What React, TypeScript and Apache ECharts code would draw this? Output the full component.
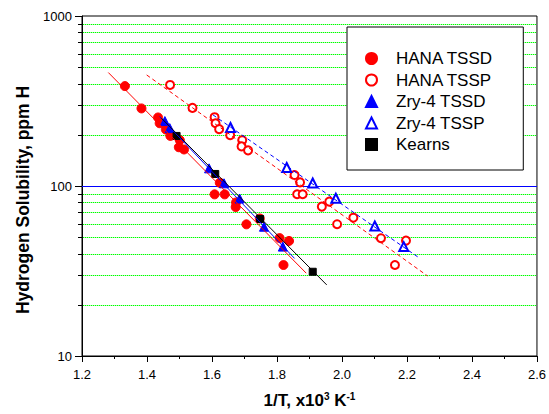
import React, { useEffect, useRef } from "react";
import * as echarts from "echarts";

// ---- Data ----
const hanaTssd: [number, number][] = [
  [1.332, 387], [1.383, 286], [1.434, 253], [1.439, 234], [1.458, 215],
  [1.472, 197], [1.501, 186], [1.498, 169], [1.514, 164], [1.608, 89.3],
  [1.639, 89.3], [1.624, 104.5], [1.674, 80], [1.673, 75.2], [1.706, 59.5],
  [1.747, 64.4], [1.808, 49.4], [1.837, 47.5], [1.82, 34.3],
];
const hanaTssp: [number, number][] = [
  [1.471, 393], [1.54, 288], [1.608, 254], [1.611, 234], [1.622, 216],
  [1.656, 199], [1.693, 186], [1.691, 171], [1.711, 162], [1.854, 116],
  [1.871, 105], [1.862, 89.4], [1.879, 89.4], [1.938, 75.6], [1.961, 80.9],
  [1.985, 59.6], [2.035, 65.1], [2.12, 49.3], [2.197, 47.7], [2.163, 34.3],
];
const zryTssd: [number, number][] = [
  [1.455, 241], [1.47, 219], [1.591, 127], [1.637, 103.7], [1.685, 84.4],
  [1.76, 57.6], [1.818, 44],
];
const zryTssp: [number, number][] = [
  [1.657, 221], [1.83, 128.5], [1.91, 104.1], [1.981, 84.7], [2.101, 58.2],
  [2.19, 44],
];
const kearns: [number, number][] = [
  [1.491, 197], [1.61, 117.7], [1.748, 64], [1.91, 31.3],
];
const hanaTssdFit: [number, number][] = [[1.281, 465], [1.89, 30.7]];
const kearnsFit: [number, number][] = [[1.445, 250], [1.953, 26.2]];
const zryTssdFit: [number, number][] = [[1.439, 256], [1.854, 37.5]];
const hanaTsspFit: [number, number][] = [[1.399, 450], [2.263, 29.6]];
const zryTsspFit: [number, number][] = [[1.603, 262], [2.24, 37.5]];

const minorValues: number[] = [20, 30, 40, 50, 60, 70, 80, 90, 200, 300, 400, 500, 600, 700, 800, 900];
const majorLines: number[] = [100];

const X_MIN = 1.2;
const X_MAX = 2.6;
const X_INTERVAL = 0.2;
const Y_MIN = 10;
const Y_MAX = 1000;
const Y_TITLE = "Hydrogen Solubility, ppm H";

const FONT = "'Liberation Sans', Arial, Helvetica, sans-serif";

export default function App() {
  const ref = useRef<HTMLDivElement>(null);

  useEffect(() => {
    if (!ref.current) return;
    const chart = echarts.init(ref.current, undefined, { renderer: "svg" });

    const gridItem = (params: any, api: any) => {
      const v = api.value(1);
      const p1 = api.coord([X_MIN, v]);
      const p2 = api.coord([X_MAX, v]);
      const y = Math.round(p1[1]) + 0.5;
      const x1 = Math.round(p1[0]) + 1;
      const x2 = Math.round(p2[0]) - 1;
      return {
        type: "group",
        silent: true,
        children: [
          {
            type: "line",
            shape: { x1, y1: y, x2, y2: y },
            style: { stroke: "#a8ffa8", lineWidth: 1 },
          },
          {
            type: "line",
            shape: { x1, y1: y, x2, y2: y },
            style: { stroke: "#00ff00", lineWidth: 1, lineDash: [1, 1] },
          },
        ],
      };
    };

    const majorItem = (params: any, api: any) => {
      const v = api.value(1);
      const p1 = api.coord([X_MIN, v]);
      const p2 = api.coord([X_MAX, v]);
      const y = Math.round(p1[1]) + 0.5;
      return {
        type: "line",
        silent: true,
        shape: { x1: p1[0], y1: y, x2: p2[0], y2: y },
        style: { stroke: "#0000ff", lineWidth: 1 },
      };
    };

    const tickItem = (params: any, api: any) => {
      const v = api.value(1);
      const p = api.coord([X_MIN, v]);
      const y = Math.round(p[1]) + 0.5;
      return {
        type: "line",
        shape: { x1: p[0] - 4, y1: y, x2: p[0], y2: y },
        style: { stroke: "#000", lineWidth: 1 },
        silent: true,
      };
    };

    const scatter = (name: string, data: [number, number][], symbol: string, color: string, size: number) => ({
      name,
      type: "scatter",
      data,
      symbol,
      symbolSize: size,
      itemStyle: { color, borderColor: color, borderWidth: 1, opacity: 1 },
      z: 3,
    });

    const fit = (name: string, data: [number, number][], color: string, dashed: boolean) => ({
      name,
      type: "line",
      data,
      showSymbol: false,
      symbol: "none",
      lineStyle: { color, width: 1, type: dashed ? [4, 3] : "solid" },
      z: 4,
      silent: true,
    });

    chart.setOption({
      animation: false,
      backgroundColor: "#fff",
      textStyle: { fontFamily: FONT },
      grid: {
        left: 82,
        top: 16,
        right: 11,
        bottom: 58,
        show: true,
        borderColor: "#000",
        borderWidth: 1,
        backgroundColor: "transparent",
      },
      graphic: [
        {
          type: "text",
          x: 23,
          y: 200,
          rotation: Math.PI / 2,
          silent: true,
          style: {
            text: Y_TITLE,
            fontSize: 17.5,
            fontWeight: "bold",
            fontFamily: FONT,
            fill: "#000",
            align: "center",
            verticalAlign: "middle",
          },
        },
      ],
      legend: {
        orient: "vertical",
        left: 347,
        top: 27,
        z: 10,
        data: ["HANA TSSD", "HANA TSSP", "Zry-4 TSSD", "Zry-4 TSSP", "Kearns"],
        backgroundColor: "#fff",
        borderColor: "#000",
        borderWidth: 1,
        borderRadius: 0,
        padding: [23, 30, 17, 18],
        itemGap: 4.5,
        itemWidth: 11,
        itemHeight: 11,
        selectedMode: false,
        textStyle: { fontSize: 17, lineHeight: 17, color: "#000", fontFamily: FONT, padding: [0, 0, 0, 14] },
      },
      xAxis: {
        type: "value",
        min: X_MIN,
        max: X_MAX,
        interval: X_INTERVAL,
        name: "1/T, x10{sup|3} K{sup|-1}",
        nameLocation: "middle",
        nameGap: 35,
        nameTextStyle: {
          fontSize: 17,
          fontWeight: "bold",
          color: "#000",
          fontFamily: FONT,
          rich: {
            sup: { fontSize: 10, fontWeight: "bold", color: "#000", padding: [0, 0, 9, 0], fontFamily: FONT },
          },
        },
        axisLine: { show: true, lineStyle: { color: "#000", width: 1 } },
        axisTick: { show: true, length: 6, lineStyle: { color: "#000" } },
        minorTick: { show: true, splitNumber: 2, length: 3, lineStyle: { color: "#000" } },
        axisLabel: {
          fontSize: 13,
          color: "#000",
          margin: 12,
          fontFamily: FONT,
          formatter: (v: number) => v.toFixed(1),
        },
        splitLine: { show: false },
      },
      yAxis: {
        type: "log",
        logBase: 10,
        min: Y_MIN,
        max: Y_MAX,
        axisLine: { show: true, lineStyle: { color: "#000", width: 1 } },
        axisTick: { show: true, length: 7, lineStyle: { color: "#000" } },
        axisLabel: {
          fontSize: 13,
          color: "#000",
          margin: 10,
          fontFamily: FONT,
          formatter: (v: number) => String(Math.round(v)),
        },
        splitLine: { show: false },
      },
      series: [
        {
          type: "custom",
          name: "minorGrid",
          data: minorValues.map((v) => [X_MIN, v]),
          encode: { x: 0, y: 1 },
          renderItem: gridItem,
          z: 1,
          silent: true,
        },
        {
          type: "custom",
          name: "majorGrid",
          data: majorLines.map((v) => [X_MIN, v]),
          encode: { x: 0, y: 1 },
          renderItem: majorItem,
          z: 1,
          silent: true,
        },
        {
          type: "custom",
          name: "minorTicks",
          data: minorValues.map((v) => [X_MIN, v]),
          encode: { x: 0, y: 1 },
          renderItem: tickItem,
          clip: false,
          z: 5,
          silent: true,
        },
        scatter("HANA TSSD", hanaTssd, "circle", "#ff0000", 9),
        scatter("HANA TSSP", hanaTssp, "emptyCircle", "#ff0000", 8),
        scatter("Zry-4 TSSD", zryTssd, "triangle", "#0000ff", 9),
        scatter("Zry-4 TSSP", zryTssp, "emptyTriangle", "#0000ff", 9),
        scatter("Kearns", kearns, "rect", "#000000", 7),
        fit("hanaTssdFit", hanaTssdFit, "#ff0000", false),
        fit("zryTssdFit", zryTssdFit, "#0000ff", false),
        fit("kearnsFit", kearnsFit, "#000000", false),
        fit("hanaTsspFit", hanaTsspFit, "#ff0000", true),
        fit("zryTsspFit", zryTsspFit, "#0000ff", true),
      ],
    });

    return () => chart.dispose();
  }, []);

  return <div ref={ref} style={{ width: 549, height: 414, position: "absolute", left: 0, top: 0 }} />;
}
